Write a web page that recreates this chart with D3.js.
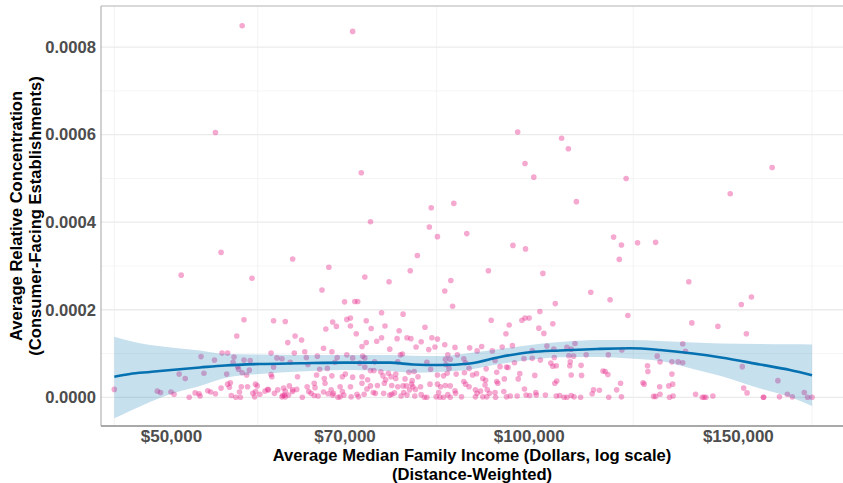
<!DOCTYPE html>
<html>
<head>
<meta charset="utf-8">
<script src="https://cdn.jsdelivr.net/npm/d3@7"></script>
<style>
  html, body { margin: 0; padding: 0; background: #ffffff; }
  svg { display: block; font-family: "Liberation Sans", Arial, Helvetica, sans-serif; }
</style>
</head>
<body>
<svg id="chart" width="843" height="483"></svg>
<script>
// Average median family income (distance-weighted), one entry per area
const income = [
  44800,48700,49000,50000,50300,50800,51000,51400,51800,52400,
  52800,52900,53000,53300,53700,54000,54400,54500,55100,55100,
  55200,63300,67900,58500,67000,70000,57600,61000,62400,67500,
  68400,68900,70300,56800,63600,62700,64400,67200,64800,68300,
  55800,60700,63500,70300,56500,61400,62000,65000,66400,69000,
  56400,58300,63000,65200,68700,56900,61000,66700,67700,55700,
  57400,57900,70100,69700,63900,66300,67300,68300,56100,55800,
  56000,57300,58000,58900,59100,60400,61100,62200,62400,62900,
  62300,62800,63300,63800,64500,65100,65300,65600,66000,66100,
  67400,67200,67800,68200,68500,69400,69700,69100,69400,69900,
  56200,56700,57200,57100,58600,58900,59400,60000,62100,66000,
  66500,68400,57000,57600,58200,58800,60300,60700,60800,61500,
  62000,62400,63300,83800,88700,80600,79500,72800,76300,86000,
  85000,71400,71800,86300,75200,78400,70800,73000,70800,75700,
  73700,81800,77800,71600,75200,77500,79000,79600,82900,83800,
  81200,73000,74500,72400,80400,85000,83400,76400,82400,86700,
  89200,78300,78000,71100,72500,72800,85500,87100,72100,74200,
  77600,82100,85100,85900,88200,85200,88500,72800,82700,85700,
  89100,73600,74100,75100,76200,77300,79300,80100,80700,83800,
  84800,85400,86900,88300,89700,71100,72400,73200,75400,75800,
  76600,77300,78700,79800,70800,72400,73600,74600,75600,76700,
  77600,78400,78900,79900,80300,79700,81100,82600,83800,84300,
  85100,85900,88200,88500,89100,86700,71700,72700,73100,74000,
  74300,75500,76400,76700,77100,78100,78500,79000,79400,80200,
  81200,81700,82100,83600,84000,84200,84800,85500,85900,86800,
  87800,70900,71900,97000,99400,92500,102800,112800,105300,102200,
  93000,98700,99300,100100,104800,96300,102000,95700,103000,91300,
  90500,95000,96900,93200,103600,109400,107700,108600,100700,105000,
  93700,97300,99100,100700,102300,105100,108100,109100,111800,104400,
  104800,105500,108400,108300,110700,94600,95800,96100,92100,90400,
  94000,98300,101200,108600,110800,91500,92000,95400,98000,94000,
  94200,91900,105600,105200,90200,90500,91100,92300,92700,93700,
  95300,99200,99500,100200,101400,101500,103300,90200,91500,92200,
  93800,95800,96500,97800,105500,106200,107100,107700,108600,109200,
  110600,113100,113400,117900,119700,123500,127900,119200,136400,117100,
  121200,137200,144300,134800,135500,116700,119800,128300,129000,132000,
  133600,134800,125900,126000,115500,116000,116600,132000,124800,125100,
  119500,128900,131200,132200,114700,118600,129000,127400,127900,131400,
  132300,116800,119700,138200,140000,140500,141000,142900,154000,151000,
  152500,151300,162100,151700,152700,157600,157700,162600,165100,166700,
  170600,171700,173200,57400,71100,54500,97900,106600,108000,99300,
  72300,101000,120800,160300,147800,109700,82800,86500,73600,82500
];

// Average relative concentration of consumer-facing establishments, same order
const concentration = [
  0.000018,0.000014,0.000011,0.000012,0.000007,0.000053,0.000279,0.000043,0,0.000010,
  0.000008,0.000003,0.000093,0.000055,0.000015,0.000012,0.000085,0.000008,0.000021,0.000331,
  0.000101,0.000316,0.000297,0.000272,0.000245,0.000218,0.000177,0.000175,0.000173,0.000156,
  0.000172,0.000162,0.000178,0.000140,0.000140,0.000125,0.000131,0.000112,0.000104,0.000104,
  0.000101,0.000101,0.000101,0.000097,0.000092,0.000090,0.000088,0.000091,0.000094,0.000091,
  0.000080,0.000084,0.000080,0.000075,0.000080,0.000070,0.000069,0.000064,0.000066,0.000053,
  0.000056,0.000051,0.000053,0.000047,0.000047,0.000051,0.000043,0.000049,0.000033,0.000030,
  0.000023,0.000024,0.000024,0.000030,0.000026,0.000017,0.000009,0.000021,0.000014,0.000026,
  0.000005,0.000005,0.000013,0.000018,0,0.000024,0.000013,0.000009,0.000032,0.000022,
  0.000032,0.000012,0.000008,0.000017,0.000009,0.000024,0.000013,0,0.000001,0.000005,
  0.000004,0,0,0.000012,0.000009,0.000013,0.000007,0.000014,0.000004,0.000004,
  0.000003,0.000005,0.000064,0.000085,0.000062,0.000001,0.000018,0.000052,0.000047,0.000017,
  0.000001,0.000001,0.000017,0.000367,0.000374,0.000324,0.000289,0.000275,0.000264,0.000267,
  0.000243,0.000219,0.000219,0.000208,0.000193,0.000190,0.000181,0.000175,0.000163,0.000163,
  0.000157,0.000160,0.000152,0.000145,0.000136,0.000134,0.000136,0.000134,0.000136,0.000133,
  0.000127,0.000125,0.000128,0.000116,0.000115,0.000120,0.000115,0.000110,0.000109,0.000114,
  0.000113,0.000099,0.000097,0.000090,0.000094,0.000090,0.000097,0.000097,0.000078,0.000081,
  0.000081,0.000080,0.000087,0.000087,0.000088,0.000075,0.000079,0.000069,0.000064,0.000066,
  0.000066,0.000061,0.000061,0.000058,0.000055,0.000053,0.000057,0.000059,0.000047,0.000051,
  0.000049,0.000055,0.000053,0.000056,0.000051,0.000046,0.000047,0.000040,0.000049,0.000040,
  0.000047,0.000043,0.000042,0.000038,0.000024,0.000032,0.000026,0.000027,0.000032,0.000027,
  0.000024,0.000026,0.000026,0.000024,0.000018,0.000030,0.000024,0.000030,0.000030,0.000024,
  0.000027,0.000026,0.000036,0.000030,0.000024,0.000015,0.000007,0.000007,0.000019,0.000011,
  0.000009,0.000009,0.000005,0.000007,0.000010,0.000003,0.000011,0.000005,0.000017,0.000003,
  0.000006,0,0,0.000001,0.000011,0,0,0.000006,0,0.000009,
  0.000001,0.000001,0.000001,0.000347,0.000339,0.000289,0.000283,0.000240,0.000214,0.000196,
  0.000176,0.000176,0.000181,0.000181,0.000168,0.000165,0.000158,0.000145,0.000146,0.000116,
  0.000106,0.000115,0.000118,0.000106,0.000117,0.000123,0.000114,0.000110,0.000107,0.000110,
  0.000084,0.000079,0.000088,0.000089,0.000085,0.000091,0.000095,0.000094,0.000097,0.000078,
  0.000071,0.000072,0.000081,0.000072,0.000073,0.000070,0.000069,0.000068,0.000065,0.000054,
  0.000057,0.000054,0.000050,0.000051,0.000050,0.000043,0.000039,0.000042,0.000042,0.000036,
  0.000032,0.000028,0.000037,0.000032,0.000017,0.000009,0.000014,0.000017,0.000009,0.000011,
  0.000013,0.000019,0.000005,0.000004,0.000011,0.000005,0.000005,0.000001,0.000001,0.000001,
  0,0.000001,0.000003,0.000003,0.000003,0.000004,0,0,0.000004,0.000001,
  0,0.000008,0.000017,0.000366,0.000348,0.000353,0.000354,0.000315,0.000264,0.000223,
  0.000187,0.000170,0.000162,0.000122,0.000105,0.000097,0.000108,0.000094,0.000081,0.000081,
  0.000081,0.000079,0.000072,0.000059,0.000060,0.000059,0.000052,0.000053,0.000033,0.000030,
  0.000032,0.000024,0.000026,0.000030,0.000016,0.000017,0.000007,0.000002,0.000002,0,
  0.000003,0,0.000001,0.000007,0,0,0,0.000003,0.000229,0.000212,
  0.000145,0.000070,0.000038,0.000021,0.000010,0,0,0.000001,0.000007,0.000001,
  0.000011,0,0,0.000849,0.000836,0.000605,0.000606,0.000592,0.000568,0.000534,
  0.000513,0.000503,0.000500,0.000525,0.000465,0.000447,0.000433,0.000443,0.000401,0.000389
];

// Smoothed trend with its confidence band
const smoothIncome = [44800, 46180, 48010, 50000, 52890, 55520, 59410, 64200, 70050, 76440, 79920, 84210,
  89260, 94600, 100260, 106260, 114160, 121700, 128990, 137510, 145170, 156570, 165950, 173200];
const smoothFit = [0.0000471, 0.0000533, 0.0000578, 0.0000624, 0.0000681, 0.0000727, 0.0000761, 0.0000777,
  0.0000791, 0.0000791, 0.0000750, 0.0000738, 0.0000773, 0.0000921, 0.0001029, 0.0001070, 0.0001104,
  0.0001120, 0.0001081, 0.0001001, 0.0000910, 0.0000750, 0.0000624, 0.0000503];
const smoothLower = [-0.0000480, -0.0000313, -0.0000107, 0.0000075, 0.0000258, 0.0000441, 0.0000533, 0.0000590,
  0.0000624, 0.0000601, 0.0000562, 0.0000578, 0.0000635, 0.0000761, 0.0000853, 0.0000914, 0.0000921,
  0.0000887, 0.0000830, 0.0000647, 0.0000487, 0.0000201, 0.0000007, -0.0000199];
const smoothUpper = [0.0001385, 0.0001287, 0.0001195, 0.0001138, 0.0001070, 0.0000990, 0.0000978, 0.0000967,
  0.0000967, 0.0000967, 0.0000951, 0.0000944, 0.0001013, 0.0001104, 0.0001195, 0.0001264, 0.0001310,
  0.0001310, 0.0001287, 0.0001253, 0.0001230, 0.0001218, 0.0001211, 0.0001207];

const xTicks = [50000, 70000, 100000, 150000];
const yTicks = [0, 0.0002, 0.0004, 0.0006, 0.0008];
const yMinorTicks = [0.0001, 0.0003, 0.0005, 0.0007];

const xTitleLines = ["Average Median Family Income (Dollars, log scale)", "(Distance-Weighted)"];
const yTitleLines = ["Average Relative Concentration", "(Consumer-Facing Establishments)"];

// Layout
const panel = { left: 101, right: 843, top: 6, bottom: 426 };
const fontStack = "'Liberation Sans', Arial, Helvetica, sans-serif";
const svg = d3.select("#chart");

const x = d3.scaleLog().domain([43660, 183900]).range([panel.left, panel.right]);
const y = d3.scaleLinear().domain([-0.0000656, 0.000894]).range([panel.bottom, panel.top]);

svg.append("defs").append("clipPath").attr("id", "panel-clip")
  .append("rect")
  .attr("x", panel.left).attr("y", panel.top)
  .attr("width", panel.right - panel.left).attr("height", panel.bottom - panel.top);

// Grid
const grid = svg.append("g");
grid.selectAll("line.ymin").data(yMinorTicks).join("line")
  .attr("x1", panel.left).attr("x2", panel.right)
  .attr("y1", d => y(d)).attr("y2", d => y(d))
  .attr("stroke", "#f2f2f2").attr("stroke-width", 0.8);

// vertical minor lines: halfway (in log space) between labelled incomes, plus the data ends
const xExtent = d3.extent(income);
const xMinor = [xExtent[0]];
for (let i = 0; i < xTicks.length - 1; i++) xMinor.push(Math.sqrt(xTicks[i] * xTicks[i + 1]));
xMinor.push(xExtent[1]);
grid.selectAll("line.xmin").data(xMinor).join("line")
  .attr("x1", d => x(d)).attr("x2", d => x(d))
  .attr("y1", panel.top).attr("y2", panel.bottom)
  .attr("stroke", "#efefef").attr("stroke-width", 0.8);

grid.selectAll("line.ymaj").data(yTicks).join("line")
  .attr("x1", panel.left).attr("x2", panel.right)
  .attr("y1", d => y(d)).attr("y2", d => y(d))
  .attr("stroke", "#ebebeb").attr("stroke-width", 1.3);

// Points
const pts = d3.range(income.length).map(i => ({ inc: income[i], val: concentration[i] }));
svg.append("g").attr("clip-path", "url(#panel-clip)")
  .selectAll("circle").data(pts).join("circle")
  .attr("cx", d => x(d.inc)).attr("cy", d => y(d.val))
  .attr("r", 2.8)
  .attr("fill", "#e7298a").attr("fill-opacity", 0.4);

// Confidence band and trend line
const smooth = d3.range(smoothIncome.length).map(i => ({
  inc: smoothIncome[i], fit: smoothFit[i], lo: smoothLower[i], hi: smoothUpper[i]
}));
const trendLayer = svg.append("g").attr("clip-path", "url(#panel-clip)");
trendLayer.append("path").datum(smooth)
  .attr("d", d3.area().curve(d3.curveMonotoneX)
    .x(d => x(d.inc)).y0(d => y(d.lo)).y1(d => y(d.hi)))
  .attr("fill", "#0072b2").attr("fill-opacity", 0.22);
trendLayer.append("path").datum(smooth)
  .attr("d", d3.line().curve(d3.curveMonotoneX).x(d => x(d.inc)).y(d => y(d.fit)))
  .attr("fill", "none").attr("stroke", "#0571b0").attr("stroke-width", 2.6);

// Panel edges
svg.append("line").attr("x1", panel.left).attr("x2", panel.right)
  .attr("y1", panel.top).attr("y2", panel.top).attr("stroke", "#b3b3b3").attr("stroke-width", 1.2);
svg.append("line").attr("x1", panel.left).attr("x2", panel.left)
  .attr("y1", panel.top).attr("y2", panel.bottom).attr("stroke", "#b3b3b3").attr("stroke-width", 1.2);
svg.append("line").attr("x1", panel.left).attr("x2", panel.right)
  .attr("y1", panel.bottom).attr("y2", panel.bottom).attr("stroke", "#8c8c8c").attr("stroke-width", 1.3);

// Axes
const yAxis = d3.axisLeft(y).tickValues(yTicks).tickFormat(d3.format(".4f")).tickSize(0).tickPadding(5);
svg.append("g").attr("transform", `translate(${panel.left},0)`).call(yAxis)
  .call(g => g.select(".domain").remove())
  .call(g => g.selectAll("text")
    .attr("fill", "#4d4d4d").attr("font-size", 16.6).attr("font-weight", "bold")
    .attr("font-family", fontStack));

const xAxis = d3.axisBottom(x).tickValues(xTicks).tickFormat(d3.format("$,")).tickSize(0).tickPadding(4);
svg.append("g").attr("transform", `translate(0,${panel.bottom})`).call(xAxis)
  .call(g => g.select(".domain").remove())
  .call(g => g.selectAll("text")
    .attr("fill", "#4d4d4d").attr("font-size", 17).attr("font-weight", "bold")
    .attr("font-family", fontStack));

// Axis titles
const cx = (panel.left + panel.right) / 2;
svg.append("g").selectAll("text").data(xTitleLines).join("text")
  .attr("x", cx).attr("y", (d, i) => 461 + i * 18.5)
  .attr("text-anchor", "middle")
  .attr("font-size", 16.6).attr("font-weight", "bold").attr("fill", "#000")
  .text(d => d);

const cy = (panel.top + panel.bottom) / 2;
svg.append("g").selectAll("text").data(yTitleLines).join("text")
  .attr("transform", (d, i) => `translate(${22 + i * 18.5},${cy}) rotate(-90)`)
  .attr("text-anchor", "middle")
  .attr("font-size", 16.6).attr("font-weight", "bold").attr("fill", "#000")
  .text(d => d);
</script>
</body>
</html>
